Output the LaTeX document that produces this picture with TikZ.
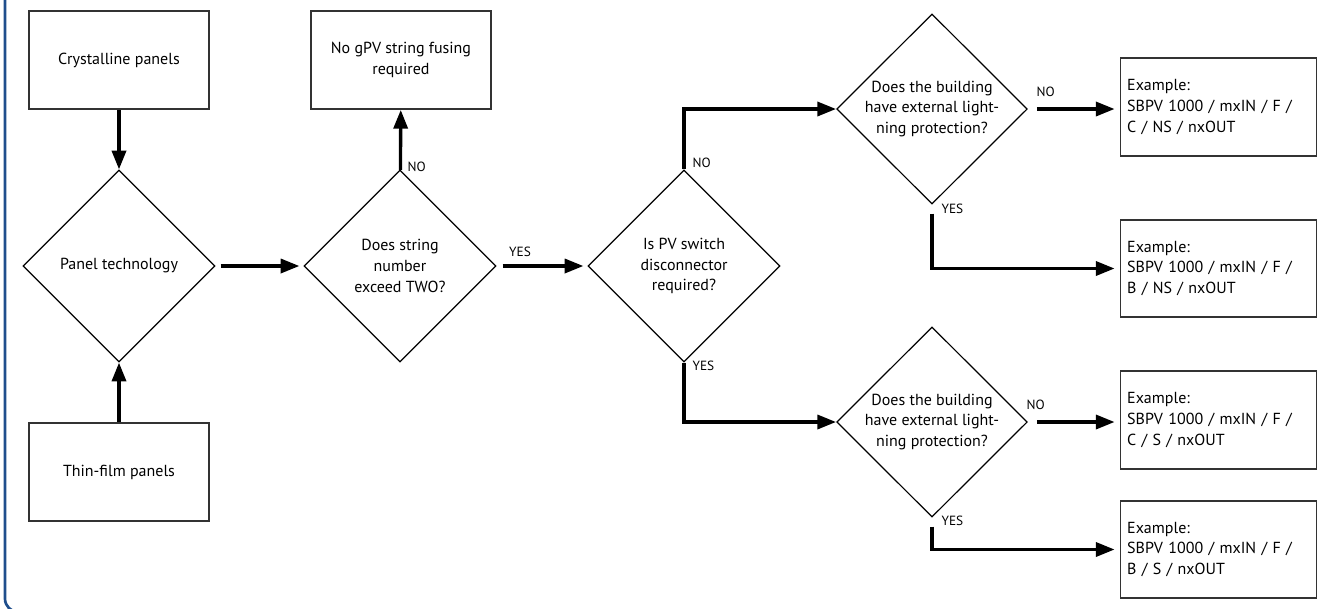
\documentclass[tikz,border=0pt]{standalone}
\usepackage{fontspec}
\setmainfont{PT Sans}
\usepackage{xcolor}
\usetikzlibrary{arrows.meta,shapes.geometric}

\definecolor{framblue}{HTML}{1F4E8C}
\definecolor{boxgray}{HTML}{333333}

\begin{document}
\begin{tikzpicture}[
  x=0.75pt, y=-0.75pt,
  font=\fontsize{12}{15.5}\selectfont,
  textbox/.style={draw=boxgray, line width=1.4pt, align=center,
               minimum width=135pt, minimum height=73.5pt, inner sep=3pt},
  exbox/.style={draw=boxgray, line width=1.4pt, align=left,
               text width=137pt, minimum height=73pt, inner sep=5pt},
  decide/.style={draw, diamond, line width=0.9pt, align=center,
               minimum width=144pt, minimum height=144pt, inner sep=0pt},
  lbl/.style={font=\fontsize{10}{12}\selectfont, inner sep=1pt},
  arrow/.style={-{Triangle[length=14pt, width=10.5pt]}, line width=2.5pt}
]
\useasboundingbox (0,0) rectangle (1327,608);
\draw[framblue, line width=2pt, rounded corners=10pt] (5,-20) -- (5,612) -- (1400,612);

% input side
\node[textbox] (crys) at (119,60) {Crystalline panels};
\node[decide] (tech) at (119,266) {Panel technology};
\node[textbox] (thin) at (119,472) {Thin-film panels};

% string check
\node[decide] (strnum) at (400,266) {Does string\\number\\exceed TWO?};
\node[textbox] (nofuse) at (401,60) {No gPV string fusing\\required};

% switch and lightning questions
\node[decide] (switch) at (684,266) {Is PV switch\\disconnector\\required?};
\node[decide, minimum width=143pt, minimum height=141pt] (lightA) at (932,109)
  {Does the building\\have external light-\\ning protection?};
\node[decide, minimum width=143pt, minimum height=141pt] (lightB) at (932,422)
  {Does the building\\have external light-\\ning protection?};

% results
\node[exbox] (exA) at (1218.5,107) {Example:\\SBPV 1000 / mxIN / F /\\C / NS / nxOUT};
\node[exbox] (exB) at (1218.5,268.5) {Example:\\SBPV 1000 / mxIN / F /\\B / NS / nxOUT};
\node[exbox] (exC) at (1218.5,420) {Example:\\SBPV 1000 / mxIN / F /\\C / S / nxOUT};
\node[exbox] (exD) at (1218.5,549.5) {Example:\\SBPV 1000 / mxIN / F /\\B / S / nxOUT};

% branch labels
\node[lbl, anchor=west] (noStr) at (406,167) {NO};
\node[lbl, anchor=south] (yesStr) at (520,258) {YES};
\node[lbl, anchor=west] (noSw) at (691,163) {NO};
\node[lbl, anchor=west] (yesSw) at (691,366) {YES};
\node[lbl, anchor=west] (noA) at (1035,92) {NO};
\node[lbl, anchor=west] (yesA) at (940,209) {YES};
\node[lbl, anchor=west] (noB) at (1025,405) {NO};
\node[lbl, anchor=west] (yesB) at (940,521) {YES};

\draw[arrow] (crys) -- (tech);
\draw[arrow] (thin) -- (tech);
\draw[arrow, shorten <=3.75pt, shorten >=3pt] (tech) -- (strnum);
\draw[arrow] (strnum) -- (nofuse);
\draw[arrow, shorten <=4.5pt, shorten >=3pt] (strnum) -- (switch);
\draw[arrow] (switch.north) |- (lightA.west);
\draw[arrow] (switch.south) |- (lightB.west);
\draw[arrow, shorten <=6.75pt, shorten >=3.75pt] (lightA.east) -- (lightA.east -| exA.west);
\draw[arrow, shorten <=6.75pt, shorten >=3.75pt] (lightA.south) |- (exB.west);
\draw[arrow, shorten <=6.75pt, shorten >=3.75pt] (lightB.east) -- (lightB.east -| exC.west);
\draw[arrow, shorten <=6.75pt, shorten >=3.75pt] (lightB.south) |- (exD.west);
\end{tikzpicture}
\end{document}
